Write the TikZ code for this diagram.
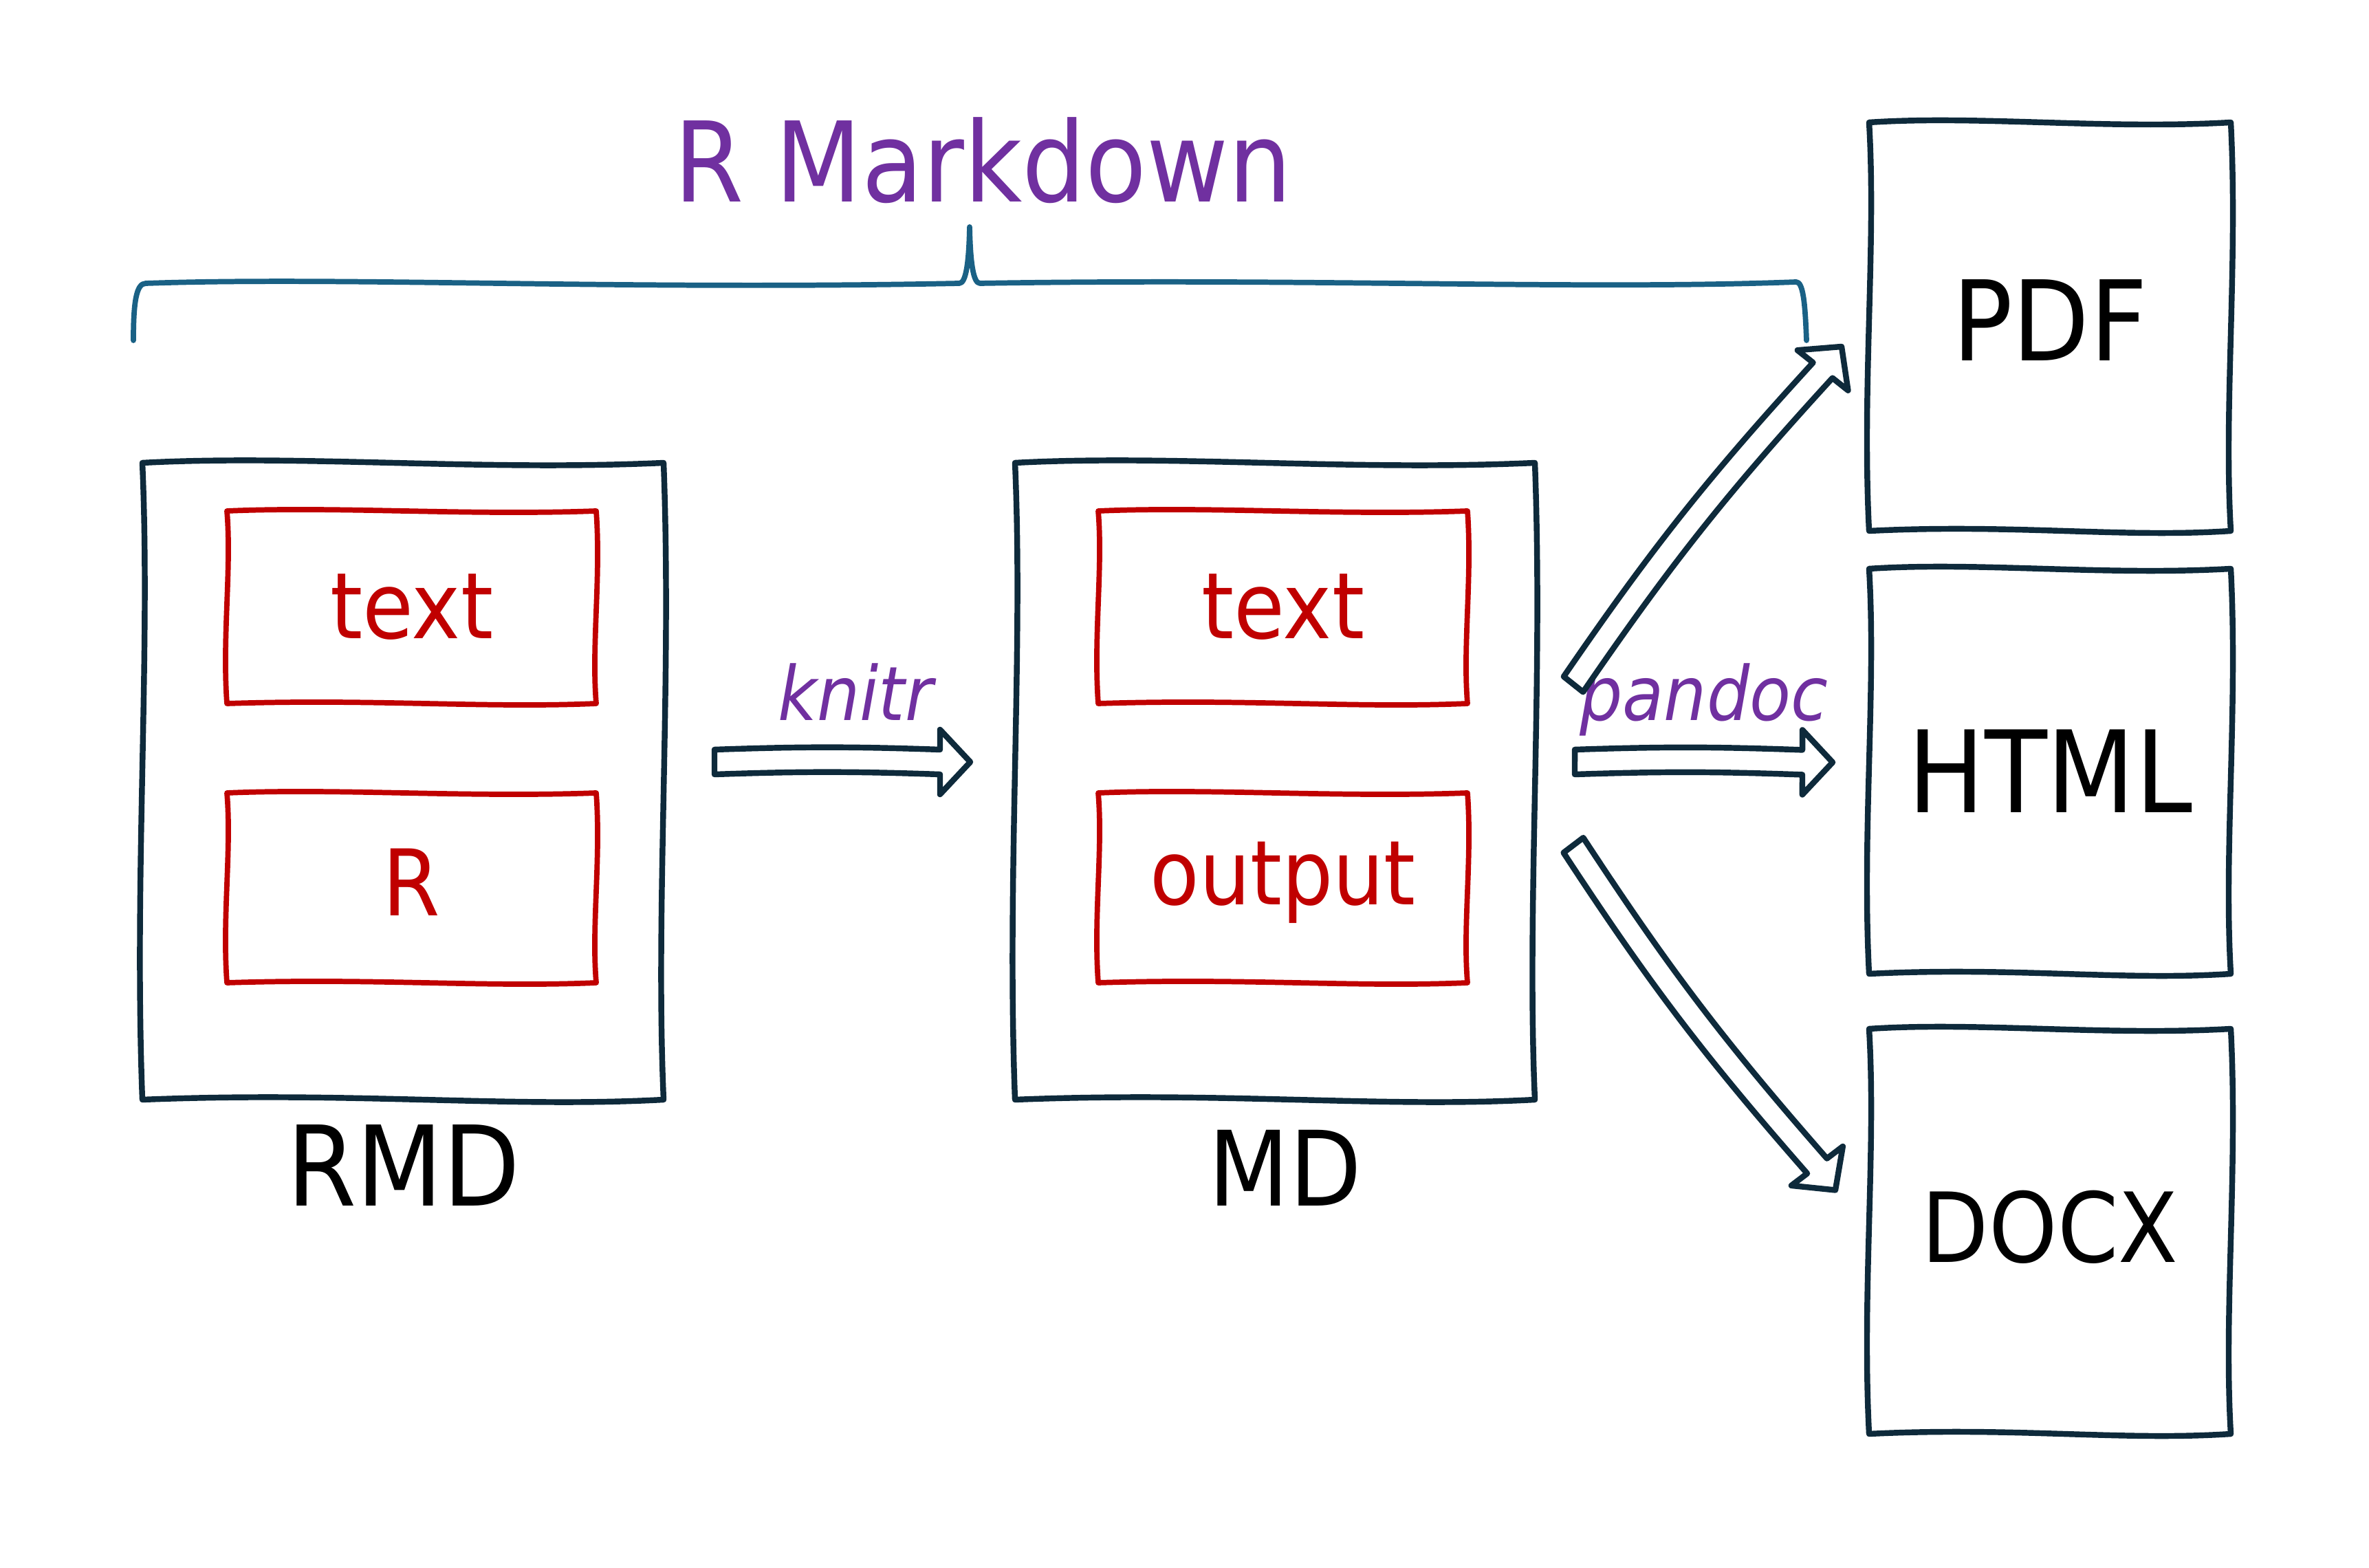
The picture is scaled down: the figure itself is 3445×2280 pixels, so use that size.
\documentclass[tikz,border=0pt]{standalone}
\usepackage{fontspec}
\setmainfont{DejaVu Sans Condensed}
\usetikzlibrary{calc,fit}
\definecolor{ink}{HTML}{0E2A3B}
\definecolor{boxred}{HTML}{C00000}
\definecolor{purp}{HTML}{7030A0}
\definecolor{bracecol}{HTML}{1A6185}
\newcommand{\skbox}[3][4pt]{%
 \draw[#3] (#2.north west)
  .. controls ($(#2.north west)!0.3!(#2.north east)!#1!90:(#2.north east)$) and ($(#2.north west)!0.65!(#2.north east)!#1!-90:(#2.north east)$) .. (#2.north east)
  .. controls ($(#2.north east)!0.35!(#2.south east)!#1!90:(#2.south east)$) and ($(#2.north east)!0.7!(#2.south east)!#1!-90:(#2.south east)$) .. (#2.south east)
  .. controls ($(#2.south east)!0.3!(#2.south west)!#1!90:(#2.south west)$) and ($(#2.south east)!0.6!(#2.south west)!#1!-90:(#2.south west)$) .. (#2.south west)
  .. controls ($(#2.south west)!0.35!(#2.north west)!#1!90:(#2.north west)$) and ($(#2.south west)!0.7!(#2.north west)!#1!-90:(#2.north west)$) .. (#2.north west)
  -- cycle;}
\newcommand{\fatarrow}[3][3]{%
 \draw[outline, fill=white]
  ($(#2)!0.18cm!90:(#3)$) to[bend left=#1] ($(#3)!0.44cm!(#2)!0.18cm!-90:(#2)$)
  -- ($(#3)!0.44cm!(#2)!0.47cm!-90:(#2)$)
  -- (#3)
  -- ($(#3)!0.44cm!(#2)!0.47cm!90:(#2)$)
  -- ($(#3)!0.44cm!(#2)!0.18cm!90:(#2)$)
  to[bend right=#1] ($(#2)!0.18cm!-90:(#3)$)
  -- cycle;}
\begin{document}
\begin{tikzpicture}[x=0.01cm,y=-0.01cm, line join=round, line cap=round,
 outline/.style={draw=ink, line width=2.4pt},
 redline/.style={draw=boxred, line width=2.2pt},
 frame/.style={inner sep=0pt, outer sep=0pt},
 bigtxt/.style={font=\fontsize{43}{50}\selectfont, text=black, inner sep=0pt},
 redtxt/.style={font=\fontsize{38}{45}\selectfont, text=boxred, inner sep=0pt},
 tooltxt/.style={font=\itshape\fontsize{31}{38}\selectfont, text=purp, inner sep=0pt},
 bracestyle/.style={draw=bracecol, line width=2.2pt}]
\useasboundingbox[fill=white] (0,0) rectangle (3445,2280);
% boxes
\node[frame, fit={(207,673)(965,1599)}] (rmd) {};
\node[frame, fit={(330,743)(867,1023)}] (rmdtext) {};
\node[frame, fit={(330,1153)(867,1429)}] (rmdr) {};
\node[frame, fit={(1476,673)(2232,1599)}] (md) {};
\node[frame, fit={(1597,743)(2134,1023)}] (mdtext) {};
\node[frame, fit={(1597,1153)(2134,1429)}] (mdout) {};
\node[frame, fit={(2718,178)(3244,772)}] (pdf) {};
\node[frame, fit={(2718,827)(3244,1416)}] (html) {};
\node[frame, fit={(2718,1496)(3244,2085)}] (docx) {};
\skbox[3.5pt]{rmd}{outline}
\skbox[3.5pt]{md}{outline}
\skbox[3pt]{pdf}{outline}
\skbox[3pt]{html}{outline}
\skbox[3pt]{docx}{outline}
\skbox[2pt]{rmdtext}{redline}
\skbox[2pt]{rmdr}{redline}
\skbox[2pt]{mdtext}{redline}
\skbox[2pt]{mdout}{redline}
% labels
\node[redtxt] (t1) at (rmdtext.center) {text};
\node[redtxt] (t2) at ($(rmdr.center)+(0,-8)$) {R};
\node[redtxt] (t3) at (mdtext.center) {text};
\node[redtxt, font=\fontsize{37}{44}\selectfont] (t4) at ($(mdout.center)+(0,-8)$) {output};
\node[bigtxt, font=\fontsize{46}{54}\selectfont, anchor=base] (rmdlbl) at (587,1753) {RMD};
\node[bigtxt, anchor=base] (mdlbl) at (1869,1753) {MD};
\node[bigtxt, font=\fontsize{46}{54}\selectfont] (pdflbl) at ($(pdf.center)+(0,-9)$) {PDF};
\node[bigtxt, font=\fontsize{47}{56}\selectfont] (htmllbl) at (html.center) {HTML};
\node[bigtxt, font=\fontsize{40}{48}\selectfont] (docxlbl) at ($(docx.center)+(0,-6)$) {DOCX};
\node[font=\fontsize{46}{54}\selectfont, text=purp, anchor=base, inner sep=0pt] (title) at (1430,294) {R Markdown};
\node[tooltxt, anchor=base] (knitr) at (1244,1048) {knitr};
\node[tooltxt, anchor=base] (pandoc) at (2478,1048) {pandoc};
% brace
\draw[bracestyle] (194,495) .. controls (194,440) and (198,412) .. (212,412)
 .. controls (500,402) and (900,422) .. (1395,412)
 .. controls (1405,412) and (1409,380) .. (1410,330)
 .. controls (1411,380) and (1415,412) .. (1425,412)
 .. controls (1900,404) and (2300,422) .. (2612,410)
 .. controls (2622,410) and (2625,440) .. (2627,495);
% arrows
\coordinate (k1) at ($(rmd.east)+(74,-28)$);
\coordinate (k2) at ($(md.west)+(-65,-28)$);
\coordinate (p1) at ($(md.east)+(58,-28)$);
\coordinate (p2) at ($(html.west)+(-53,-13)$);
\coordinate (u1) at ($(md.east)+(56,-141)$);
\coordinate (u2) at ($(pdf.west)+(-40,29)$);
\coordinate (d1) at ($(md.east)+(56,93)$);
\coordinate (d2) at ($(docx.west)+(-49,-60)$);
\fatarrow[2]{k1}{k2}
\fatarrow[2]{p1}{p2}
\fatarrow[4]{u1}{u2}
\fatarrow[-4]{d1}{d2}
\end{tikzpicture}
\end{document}
